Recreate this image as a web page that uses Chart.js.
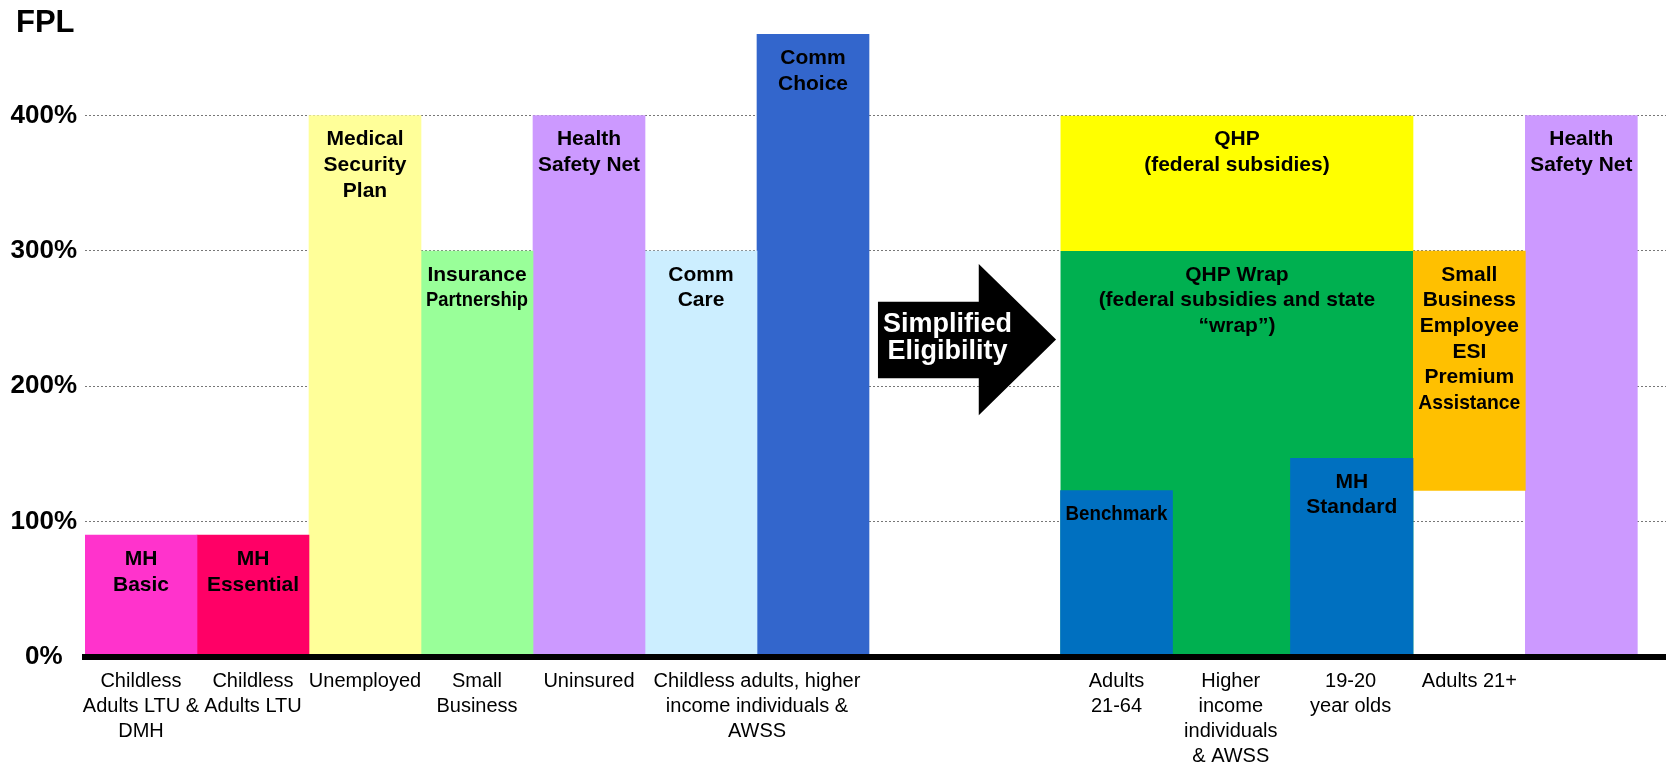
<!DOCTYPE html>
<html>
<head>
<meta charset="utf-8">
<script src="https://cdn.jsdelivr.net/npm/chart.js@4/dist/chart.umd.min.js"></script>
<style>
  html, body { margin: 0; padding: 0; background: #fff; }
  #wrap { width: 1666px; height: 767px; }
</style>
</head>
<body>
<div id="wrap"><canvas id="fplChart" width="1666" height="767"></canvas></div>
<script>
// === DATA ===
// one bar per program; x in column units, y in % of FPL
const programNames = ["MH Basic", "MH Essential", "Medical Security Plan", "Insurance Partnership",
  "Health Safety Net", "Comm Care", "Comm Choice", "QHP", "QHP Wrap", "Benchmark", "MH Standard",
  "Small Business Employee ESI Premium Assistance", "Health Safety Net (new)"];
const programLines = [
  ["MH", "Basic"], ["MH", "Essential"], ["Medical", "Security", "Plan"], ["Insurance", "Partnership"],
  ["Health", "Safety Net"], ["Comm", "Care"], ["Comm", "Choice"], ["QHP", "(federal subsidies)"],
  ["QHP Wrap", "(federal subsidies and state", "\u201cwrap\u201d)"], ["Benchmark"], ["MH", "Standard"],
  ["Small", "Business", "Employee", "ESI", "Premium", "Assistance"], ["Health", "Safety Net"]
];
const programFrom = [0, 1, 2, 3, 4, 5, 6, 8.71, 8.71, 8.71, 10.76, 11.86, 12.86];
const programTo   = [1, 2, 3, 4, 5, 6, 7, 11.86, 11.86, 9.71, 11.86, 12.86, 13.86];
const programLow  = [0, 0, 0, 0, 0, 0, 0, 300, 0, 0, 0, 123, 0];
const programHigh = [90, 90, 400, 300, 400, 300, 460, 400, 300, 123, 147, 300, 400];
const programColors = ["#ff33cc", "#ff0066", "#ffff99", "#99ff99", "#cc99ff", "#cceeff", "#3366cc",
  "#ffff00", "#00b050", "#0070c0", "#0070c0", "#ffc000", "#cc99ff"];

// population groups under the axis
const groupLabels = [
  ["Childless", "Adults LTU &", "DMH"], ["Childless", "Adults LTU"], ["Unemployed"], ["Small", "Business"],
  ["Uninsured"], ["Childless adults, higher", "income individuals &", "AWSS"], ["Adults", "21-64"],
  ["Higher", "income", "individuals", "& AWSS"], ["19-20", "year olds"], ["Adults 21+"]
];
const groupPos = [0.5, 1.5, 2.5, 3.5, 4.5, 6, 9.21, 10.23, 11.3, 12.36];
const yTicks = [0, 100, 200, 300, 400];

const FONT = '"Liberation Sans", Arial, sans-serif';

// === TEXTOS Y FLECHA ===
const overlay = {
  id: "overlay",
  afterDatasetsDraw(chart) {
    const { ctx, scales: { x, y } } = chart;
    ctx.save();

    // labels inside the bars
    ctx.fillStyle = "#000";
    ctx.font = "bold 21px " + FONT;
    ctx.textAlign = "center";
    ctx.textBaseline = "middle";
    programLines.forEach((lines, i) => {
      const cx = x.getPixelForValue((programFrom[i] + programTo[i]) / 2);
      const w = x.getPixelForValue(programTo[i]) - x.getPixelForValue(programFrom[i]);
      const top = y.getPixelForValue(programHigh[i]);
      lines.forEach((t, k) => ctx.fillText(t, cx, top + 24 + k * 25.6, w - 10));
    });

    // "Simplified Eligibility" arrow
    const xl = x.getPixelForValue(7.08), xh = x.getPixelForValue(7.98), xt = x.getPixelForValue(8.67);
    const bt = y.getPixelForValue(262.5), bb = y.getPixelForValue(205.9);
    const ht = y.getPixelForValue(290.4), hb = y.getPixelForValue(178.7), tip = y.getPixelForValue(234.6);
    ctx.fillStyle = "#000";
    ctx.beginPath();
    ctx.moveTo(xl, bt);
    ctx.lineTo(xh, bt);
    ctx.lineTo(xh, ht);
    ctx.lineTo(xt, tip);
    ctx.lineTo(xh, hb);
    ctx.lineTo(xh, bb);
    ctx.lineTo(xl, bb);
    ctx.closePath();
    ctx.fill();
    ctx.fillStyle = "#fff";
    ctx.font = "bold 27px " + FONT;
    const tx = x.getPixelForValue(7.7);
    ctx.fillText("Simplified", tx, y.getPixelForValue(246));
    ctx.fillText("Eligibility", tx, y.getPixelForValue(226));

    // axis title
    ctx.fillStyle = "#000";
    ctx.font = "bold 31px " + FONT;
    ctx.textAlign = "left";
    ctx.textBaseline = "alphabetic";
    ctx.fillText("FPL", 16, 32);
    ctx.restore();
  }
};

// === GRÁFICA ===
const datasets = programNames.map((name, i) => ({
  label: name,
  data: [{ x: (programFrom[i] + programTo[i]) / 2, y: [programLow[i], programHigh[i]] }],
  backgroundColor: programColors[i],
  borderWidth: 0,
  grouped: false,
  categoryPercentage: 1,
  barPercentage: programTo[i] - programFrom[i],
  order: programTo[i] - programFrom[i] > 2 ? 1 : 0
}));

new Chart(document.getElementById("fplChart"), {
  type: "bar",
  data: { datasets: datasets },
  plugins: [overlay],
  options: {
    responsive: false,
    animation: false,
    layout: { padding: { top: 20, left: 0, right: 0, bottom: 0 } },
    plugins: { legend: { display: false }, tooltip: { enabled: false } },
    scales: {
      x: {
        type: "linear",
        min: 0,
        max: 14.116,
        offset: false,
        grid: { display: false, drawTicks: false },
        border: { display: true, color: "#000", width: 6, z: 1 },
        afterBuildTicks: (s) => { s.ticks = groupPos.map((v) => ({ value: v })); },
        afterFit: (s) => { s.height = 110; },
        ticks: {
          autoSkip: false,
          maxRotation: 0,
          minRotation: 0,
          padding: 11.5,
          color: "#000",
          font: { family: FONT, size: 20, lineHeight: 1.25 },
          callback: (v, i) => groupLabels[i]
        }
      },
      y: {
        min: 0,
        max: 468,
        grid: { color: "#777", lineWidth: 1, drawTicks: false },
        border: { display: false, dash: [2, 2] },
        afterBuildTicks: (s) => { s.ticks = yTicks.map((v) => ({ value: v })); },
        afterFit: (s) => { s.width = 85; },
        ticks: {
          crossAlign: "center",
          padding: 8,
          color: "#000",
          font: { family: FONT, size: 26, weight: "bold" },
          callback: (v) => v + "%"
        }
      }
    }
  }
});
</script>
</body>
</html>
